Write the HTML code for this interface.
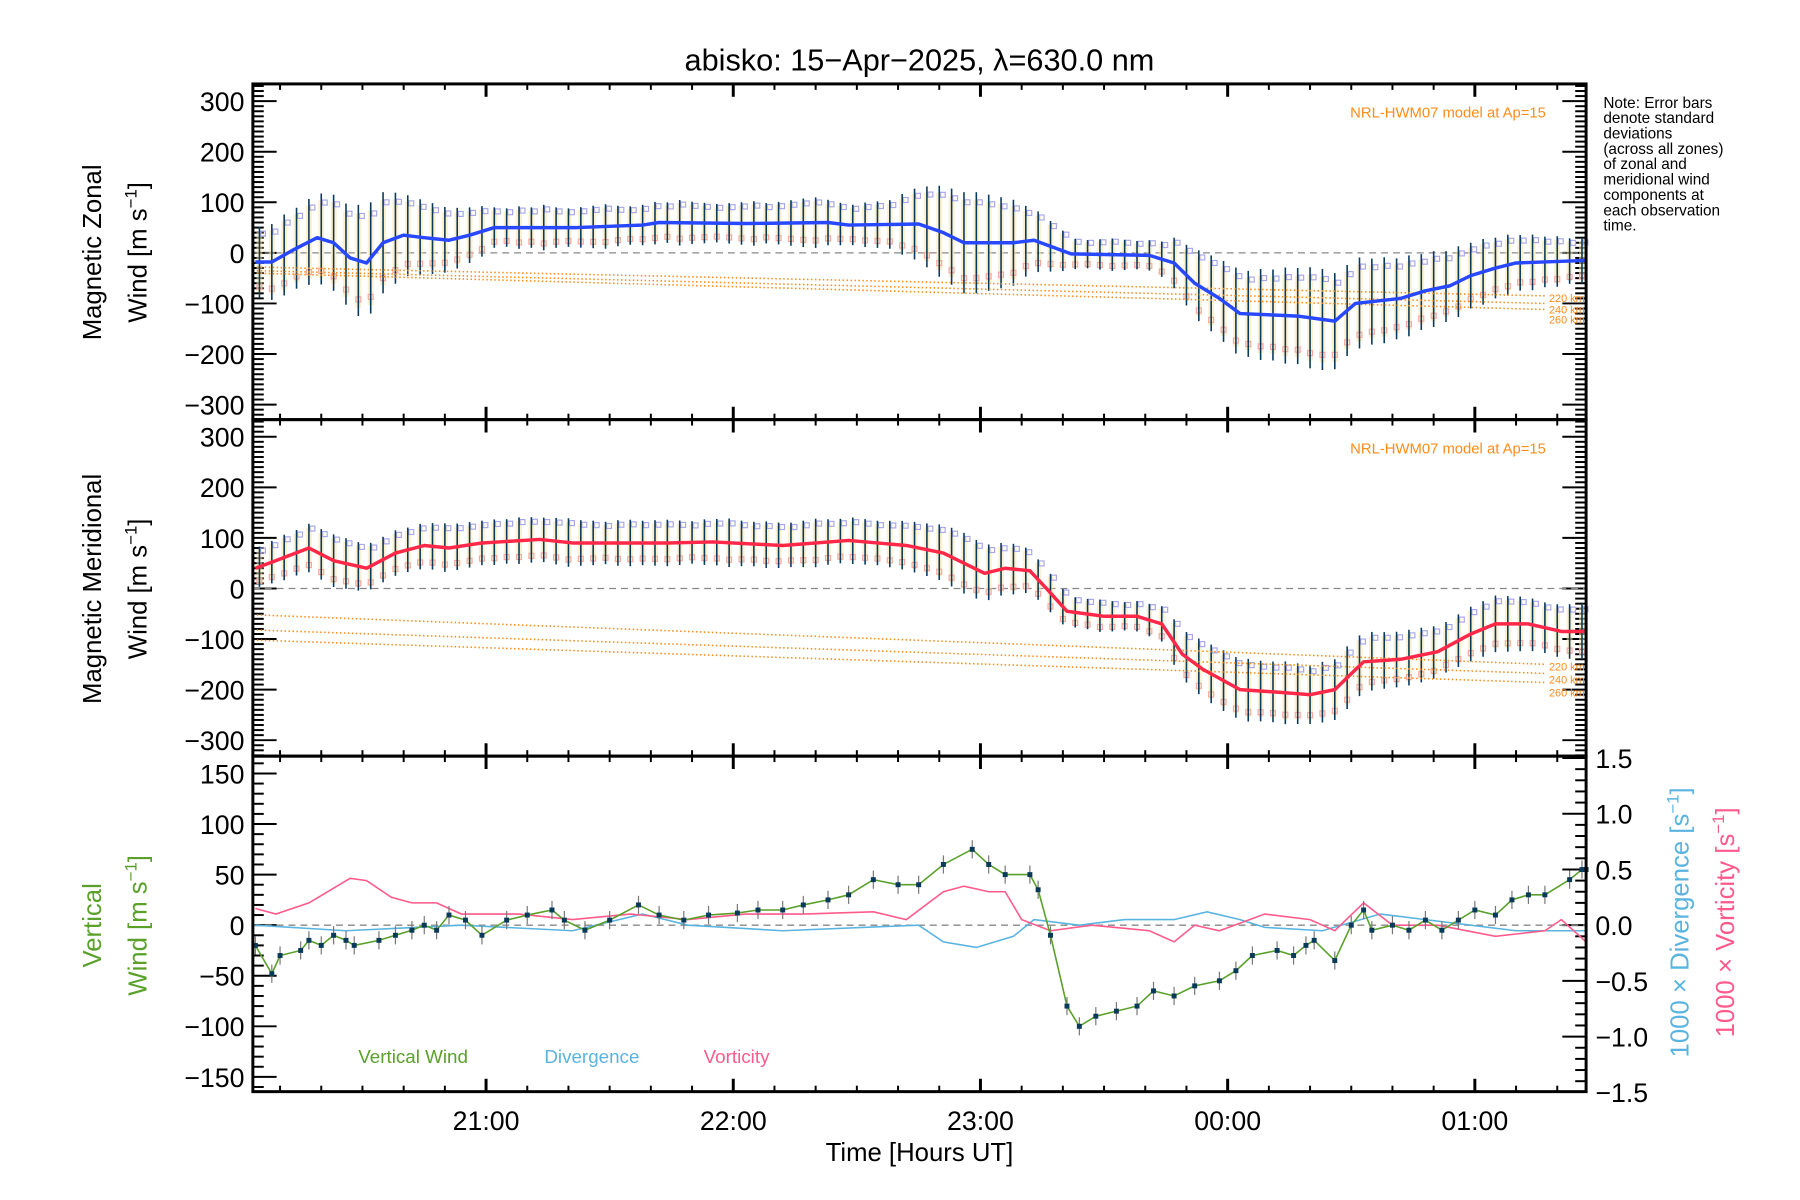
<!DOCTYPE html>
<html><head><meta charset="utf-8"><style>
body{margin:0;background:#fff}
svg{display:block}
text{font-family:"Liberation Sans","DejaVu Sans",sans-serif}
</style></head><body>
<svg id="chart" width="1800" height="1200" viewBox="0 0 1800 1200" xmlns="http://www.w3.org/2000/svg">
<rect width="1800" height="1200" fill="#fff"/>
<g transform="scale(0.9897)">
<text x="929" y="71" font-size="31" text-anchor="middle">abisko: 15−Apr−2025, λ=630.0 nm</text>
<g font-size="15.5">
<text x="1620" y="109">Note: Error bars</text>
<text x="1620" y="124.5">denote standard</text>
<text x="1620" y="140">deviations</text>
<text x="1620" y="155.5">(across all zones)</text>
<text x="1620" y="171">of zonal and</text>
<text x="1620" y="186.5">meridional wind</text>
<text x="1620" y="202">components at</text>
<text x="1620" y="217.5">each observation</text>
<text x="1620" y="233">time.</text>
</g>
<text transform="translate(102,255) rotate(-90)" font-size="26" text-anchor="middle">Magnetic Zonal</text>
<text transform="translate(148,255) rotate(-90)" font-size="26" text-anchor="middle">Wind [m s<tspan dy="-10" font-size="17">−1</tspan><tspan dy="10">]</tspan></text>
<text transform="translate(102,595) rotate(-90)" font-size="26" text-anchor="middle">Magnetic Meridional</text>
<text transform="translate(148,595) rotate(-90)" font-size="26" text-anchor="middle">Wind [m s<tspan dy="-10" font-size="17">−1</tspan><tspan dy="10">]</tspan></text>
<text transform="translate(102,935) rotate(-90)" font-size="26" fill="#5aa02a" text-anchor="middle">Vertical</text>
<text transform="translate(148,935) rotate(-90)" font-size="26" fill="#5aa02a" text-anchor="middle">Wind [m s<tspan dy="-10" font-size="17">−1</tspan><tspan dy="10">]</tspan></text>
<text transform="translate(1706,932) rotate(-90)" font-size="26" fill="#5ab4e0" text-anchor="middle">1000 × Divergence [s<tspan dy="-10" font-size="17">−1</tspan><tspan dy="10">]</tspan></text>
<text transform="translate(1752,932) rotate(-90)" font-size="26" fill="#ff5a8c" text-anchor="middle">1000 × Vorticity [s<tspan dy="-10" font-size="17">−1</tspan><tspan dy="10">]</tspan></text>
<text x="929" y="1173" font-size="26" text-anchor="middle">Time [Hours UT]</text>
<text x="362" y="1074" font-size="19" fill="#5aa02a">Vertical Wind</text>
<text x="550" y="1074" font-size="19" fill="#5ab4e0">Divergence</text>
<text x="711" y="1074" font-size="19" fill="#ff5a8c">Vorticity</text>
<g id="plots"></g>
</g>
</svg>
<script>
// time in minutes since 20:00 UT
const xTickLabels = ["21:00","22:00","23:00","00:00","01:00"];
const xTickMinutes = [60,120,180,240,300];
const windTicks = [300,200,100,0,-100,-200,-300];
const vertTicks = [150,100,50,0,-50,-100,-150];
const rightTicks = [1.5,1.0,0.5,0.0,-0.5,-1.0,-1.5];

const zonalT = [4,8,13,19,23,27,31,35,40,45,51,56,62,82,98,102,123,143,148,165,171,176,188,193,202,221,227,232,238,243,257,266,271,282,288,294,299,305,310,327];
const zonalV = [-18,-18,5,30,20,-10,-20,20,35,30,25,35,50,50,55,60,58,60,55,57,40,20,20,25,-2,-5,-20,-60,-90,-120,-125,-135,-100,-90,-75,-65,-45,-30,-20,-15];
const meridT = [4,9,17,23,31,38,45,51,59,73,81,104,115,132,148,162,171,181,186,192,196,201,210,218,224,229,234,243,252,260,266,273,282,291,299,305,313,321,327];
const meridV = [40,55,80,55,40,70,85,80,90,97,90,90,92,85,95,85,70,30,40,35,0,-45,-55,-55,-70,-130,-160,-200,-205,-210,-200,-145,-140,-125,-90,-70,-70,-85,-85];

const errStart = 5, errStep = 3;
const zonalErr = [70,75,80,80,85,90,95,100,110,110,100,90,80,75,70,65,60,55,50,
40,38,42,40,45,40,38,40,42,44,40,38,40,42,40,45,42,40,38,40,42,44,40,42,45,48,50,45,42,40,44,46,48,
60,70,80,90,95,100,100,95,90,85,70,60,50,40,
30,28,30,32,30,28,30,35,
50,60,70,75,80,85,85,90,90,95,95,100,100,95,90,90,85,85,80,80,75,75,70,70,65,65,60,60,55,55,50,50,45,45];
const meridErr = [40,42,45,45,48,50,52,50,48,46,45,45,44,45,46,48,46,45,44,
45,44,46,45,44,46,48,45,44,42,45,46,44,45,46,44,42,45,46,48,45,44,46,45,44,46,48,45,44,46,45,44,46,
48,50,52,55,58,60,58,55,52,50,45,40,38,35,
30,30,32,30,28,30,32,35,
45,50,55,58,60,60,62,60,60,62,60,58,60,60,62,60,58,56,55,55,54,52,50,52,54,55,56,55,54,52,50,52,54,55];

const modelZonalStart = [-28,-35,-40], modelZonalEnd = [-85,-100,-112];
const modelMeridStart = [-52,-82,-102], modelMeridEnd = [-150,-168,-186];
const modelLabels = ["220 km","240 km","260 km"];

const vertT = [4,8,10,15,17,20,23,26,28,34,38,42,45,48,51,55,59,65,70,76,79,84,90,97,102,108,114,121,126,132,137,143,148,154,160,165,171,178,182,186,192,194,197,201,204,208,213,218,222,227,232,238,242,246,252,256,259,261,266,270,273,275,280,284,288,292,296,300,305,309,313,317,323,326,327];
const vertV = [-20,-48,-30,-25,-15,-20,-10,-15,-20,-15,-10,-5,0,-5,10,5,-10,5,10,15,5,-5,5,20,10,5,10,12,15,15,20,25,30,45,40,40,60,75,60,50,50,35,-10,-80,-100,-90,-85,-80,-65,-70,-60,-55,-45,-30,-25,-30,-20,-15,-35,0,15,-5,0,-5,5,-5,5,15,10,25,30,30,45,55,55];
const vertErr = 9;
const divT = [4,26,54,81,98,109,132,165,171,179,188,193,204,215,227,235,243,249,263,277,288,299,310,327];
const divV = [0,-0.05,0,-0.05,0.1,0,-0.05,0,-0.15,-0.2,-0.1,0.05,0,0.05,0.05,0.12,0.05,-0.02,-0.05,0.1,0.05,0,-0.05,-0.05];
const vorT = [4,9,17,27,31,37,42,48,54,68,81,95,109,123,137,154,162,171,176,182,186,190,197,207,221,227,232,238,249,260,266,273,280,291,305,317,321,327];
const vorV = [0.15,0.1,0.2,0.42,0.4,0.25,0.2,0.2,0.1,0.1,0.05,0.1,0.05,0.1,0.1,0.12,0.05,0.3,0.35,0.3,0.3,0.05,-0.05,0,-0.05,-0.15,0,-0.05,0.1,0.05,-0.05,0.2,0,0,-0.1,-0.05,0.05,-0.15];

const NS = "http://www.w3.org/2000/svg";
const root = document.getElementById('plots');
const X0 = 255.5, X1 = 1602.6, T0 = 3.4, T1 = 327;
const xs = t => X0 + (t - T0) / (T1 - T0) * (X1 - X0);
function mk(tag, attrs, parent) {
  const e = document.createElementNS(NS, tag);
  for (const k in attrs) e.setAttribute(k, attrs[k]);
  (parent || root).appendChild(e);
  return e;
}
function interp(T, V, t) {
  if (t <= T[0]) return V[0];
  for (let i = 1; i < T.length; i++) if (t <= T[i]) { const f = (t - T[i-1]) / (T[i] - T[i-1]); return V[i-1] + f * (V[i] - V[i-1]); }
  return V[V.length - 1];
}
const panels = [
  {top:84.8, bot:424, y: v => 255.5 - v*0.511},
  {top:424, bot:764, y: v => 594.6 - v*0.511},
  {top:764, bot:1103, y: v => 934.8 - v*1.022, yr: v => 934.8 - v*112.6}
];

panels.forEach((p, pi) => {
  const g = mk('g', {stroke:'#000','stroke-width':2});
  
  
  for (let m = 10; m < T1; m += 10) {
    if (m < T0) continue;
    const x = xs(m), L = (m % 60 === 0) ? 13 : 6, w = (m % 60 === 0) ? 3 : 2;
    mk('line', {x1:x, x2:x, y1:p.top, y2:p.top+L, 'stroke-width':w}, g);
    mk('line', {x1:x, x2:x, y1:p.bot, y2:p.bot-L, 'stroke-width':w}, g);
  }
});
function yTicks(p, lo, hi, minor, major, side, fn, name) {
  const g = mk('g', {stroke:'#000','stroke-width':2});
  
  
  for (let v = lo; v <= hi + 1e-9; v += minor) {
    const y = fn(v); if (y < p.top || y > p.bot) continue;
    const isMaj = Math.abs(v / major - Math.round(v / major)) < 1e-6;
    const L = isMaj ? 24 : 11;
    if (side !== 'right') mk('line', {x1:X0, x2:X0+L, y1:y, y2:y}, g);
    if (side !== 'left') mk('line', {x1:X1, x2:X1-L, y1:y, y2:y}, g);
  }
}
yTicks(panels[0], -330, 330, 10, 100, 'both', panels[0].y, 'y-ticks-zonal');
yTicks(panels[1], -330, 330, 10, 100, 'both', panels[1].y, 'y-ticks-meridional');
yTicks(panels[2], -160, 160, 10, 50, 'left', panels[2].y, 'y-ticks-vertical');
yTicks(panels[2], -1.5, 1.5, 0.1, 0.5, 'right', panels[2].yr, 'y-ticks-right');

function yLabels(vals, fn, x, anchor, fmt, name) {
  const g = mk('g', {'font-size':27, 'text-anchor':anchor});
  
  
  vals.forEach(v => { const t = mk('text', {x:x, y:fn(v)+10}, g); t.textContent = fmt(v); });
}
const fmtI = v => (v < 0 ? '−' : '') + Math.abs(v);
yLabels(windTicks, panels[0].y, 247, 'end', fmtI, 'zonal-tick-labels');
yLabels(windTicks, panels[1].y, 247, 'end', fmtI, 'meridional-tick-labels');
yLabels(vertTicks, panels[2].y, 247, 'end', fmtI, 'vertical-tick-labels');
yLabels(rightTicks, panels[2].yr, 1612, 'start', v => (v < 0 ? '−' : '') + Math.abs(v).toFixed(1), 'right-tick-labels');
const xl = mk('g', {'font-size':27, 'text-anchor':'middle'});


xTickMinutes.forEach((m, i) => { const t = mk('text', {x:xs(m), y:1142}, xl); t.textContent = xTickLabels[i]; });

panels.forEach((p, pi) => {
  const l = mk('line', {x1:X0, x2:X1, y1:p.y(0), y2:p.y(0), stroke:'#888', 'stroke-width':1.3, 'stroke-dasharray':'7,5'});
  
  
});

function windPanel(p, T, V, errs, mStart, mEnd, color, name) {
  const g = mk('g', {});
  
  
  errs.forEach((h, i) => {
    const t = errStart + i * errStep, c = interp(T, V, t), x = xs(t);
    mk('rect', {x:x-3, y:p.y(c+h*0.85), width:6, height:p.y(c-h*0.85)-p.y(c+h*0.85), fill:'#fbe3a8', opacity:0.55}, g);
    mk('rect', {x:x-2.5, y:p.y(c-h*0.7)-2.5, width:5, height:5, fill:'none', stroke:'#f8a8a0', 'stroke-width':1.2}, g);
    mk('rect', {x:x+1, y:p.y(c+h*0.8)-2.5, width:5, height:5, fill:'none', stroke:'#a8a8e8', 'stroke-width':1.2}, g);
    mk('line', {x1:x, x2:x, y1:p.y(c+h), y2:p.y(c-h), stroke:'#0a3a5a', 'stroke-width':1.6}, g);
  });
  const mg = mk('g', {stroke:'#ff8c1a', 'stroke-width':1.6, 'stroke-dasharray':'1.5,2.5', fill:'none'});
  
  
  mStart.forEach((s, i) => {
    mk('line', {x1:X0, y1:p.y(s), x2:xs(317), y2:p.y(mEnd[i])}, mg);
    const tl = mk('text', {x:xs(318), y:p.y(mEnd[i])+6+i*4, 'font-size':11, fill:'#ff8c1a', stroke:'none'}, mg);
    tl.textContent = modelLabels[i];
  });
  const mt = mk('text', {x:1562, y:p.top+34, 'font-size':15, fill:'#ff8c1a', 'text-anchor':'end'});
  
  
  mt.textContent = 'NRL-HWM07 model at Ap=15';
  const pts = T.map((t, i) => xs(t) + ',' + p.y(V[i])).join(' ');
  const ln = mk('polyline', {points:pts, fill:'none', stroke:color, 'stroke-width':3.5, 'stroke-linejoin':'round'});
  
  
}
windPanel(panels[0], zonalT, zonalV, zonalErr, modelZonalStart, modelZonalEnd, '#2848ff', 'zonal');
windPanel(panels[1], meridT, meridV, meridErr, modelMeridStart, modelMeridEnd, '#ff2848', 'meridional');

const p3 = panels[2];
function lineSeries(T, V, fn, color, w, name) {
  const l = mk('polyline', {points:T.map((t, i) => xs(t) + ',' + fn(V[i])).join(' '), fill:'none', stroke:color, 'stroke-width':w});
  
  
}
lineSeries(divT, divV, p3.yr, '#5ab4e0', 1.6, 'divergence-line');
lineSeries(vorT, vorV, p3.yr, '#ff5a8c', 1.6, 'vorticity-line');
const ve = mk('g', {stroke:'#777', 'stroke-width':1.2});


vertT.forEach((t, i) => mk('line', {x1:xs(t), x2:xs(t), y1:p3.y(vertV[i]+vertErr), y2:p3.y(vertV[i]-vertErr)}, ve));
lineSeries(vertT, vertV, p3.y, '#5aa02a', 1.6, 'vertical-wind-line');
const vm = mk('g', {fill:'#0a3a5a'});


vertT.forEach((t, i) => mk('rect', {x:xs(t)-2.5, y:p3.y(vertV[i])-2.5, width:5, height:5}, vm));

panels.forEach((p, pi) => {
  const r = mk('rect', {x:X0, y:p.top, width:X1-X0, height:p.bot-p.top, fill:'none', stroke:'#000', 'stroke-width':3});
  
  
});
</script>
</body></html>
